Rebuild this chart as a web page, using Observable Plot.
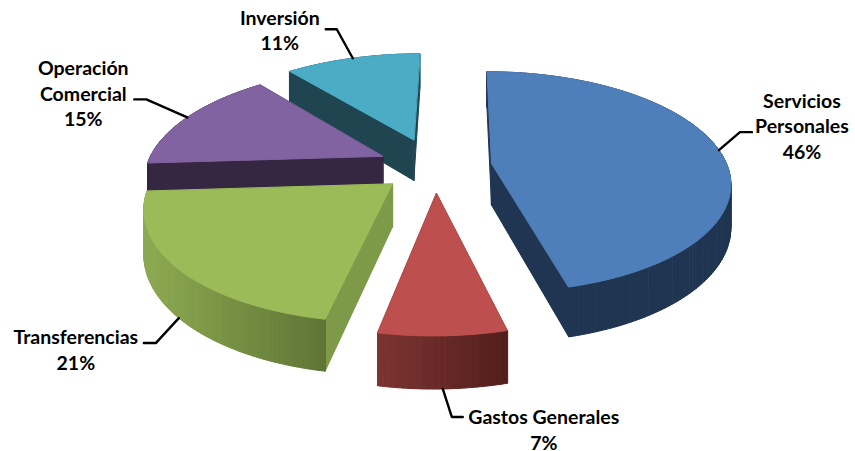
<!DOCTYPE html>
<html>
<head>
<meta charset="utf-8">
<script src="https://cdn.jsdelivr.net/npm/d3@7"></script>
<script src="https://cdn.jsdelivr.net/npm/@observablehq/plot@0.6"></script>
<style>html,body{margin:0;padding:0;background:#fff}svg{display:block}</style>
</head>
<body>
<div id="chart"></div>
<script>
// Data
const categories = ["Servicios\nPersonales", "Gastos Generales", "Transferencias", "Operación\nComercial", "Inversión"];
const shares = [46, 7, 21, 15, 11];

// Styles per slice
const topColors = ["#4f7fba", "#bd504e", "#9bbb59", "#8063a0", "#4bacc6"];
const wallFrom = ["#1f3552", "#7c3331", "#8dab51", "#352642", "#1f4551"];
const wallTo = ["#1f3552", "#521f1c", "#5f7536", "#352642", "#1f4551"];
const cutColors = ["#1f3552", "#6a2a28", "#7c9a48", "#352642", "#1f4551"];
const paintOrder = [4, 3, 0, 2, 1];

// View of the tilted pie
const view = {cx: 435, cy: 166, A: 236, B: 108, H: 42, k: 0.169, skew: 3.5, explode: 0.24};
const nudgeX = [0, 0, 1, -2, -4];
const nudgeY = [0, 0, 0, 0, -3];
// Leader layout: rim the leader starts on (0 top / 1 bottom), then the elbow and the label, as offsets
const leaderRim = [0, 1, 1, 0, 0];
const elbowOff = [[21, -18], [9, 28], [-23, 25], [-41, -18], [-16, -29]];
const tailOff = [12, 11, -12, -12, -11];
const labelOff = [[50, -7], [81, 12], [-68, 6], [-51, -7], [-46, 0]];

const total = d3.sum(shares);
const slices = [];
let acc = 0;
shares.forEach((s, i) => {
  const a0 = acc / total * 2 * Math.PI;
  acc += s;
  const a1 = acc / total * 2 * Math.PI;
  slices.push({i, a0, a1, mid: (a0 + a1) / 2});
});

function project(sl, r, a, rim) {
  const X = r * Math.sin(a) + view.explode * Math.sin(sl.mid);
  const Y = r * Math.cos(a) + view.explode * Math.cos(sl.mid);
  const w = 1 + view.k * Y;
  return {
    x: view.cx + view.A * X / w + view.skew * Y + nudgeX[sl.i],
    y: view.cy + (-view.B * Y + view.H * rim) / w + nudgeY[sl.i],
    depth: Y
  };
}

const polys = [];
let pid = 0;
function addPoly(points, c) {
  const id = pid++;
  points.forEach(p => polys.push({id, x: p.x, y: p.y, c}));
}

paintOrder.forEach(i => {
  const sl = slices[i];
  const n = Math.max(12, Math.round(shares[i] * 3));
  const angles = d3.range(n + 1).map(j => sl.a0 + (sl.a1 - sl.a0) * j / n);
  const walls = [];
  [sl.a0, sl.a1].forEach(a => {
    const pts = [project(sl, 0, a, 0), project(sl, 1, a, 0), project(sl, 1, a, 1), project(sl, 0, a, 1)];
    walls.push({pts, c: cutColors[i], depth: d3.mean(pts, p => p.depth)});
  });
  const mix = d3.interpolateRgb(wallFrom[i], wallTo[i]);
  const xs = angles.map(a => project(sl, 1, a, 0).x);
  const xMin = d3.min(xs), xMax = d3.max(xs);
  for (let j = 0; j < n; j++) {
    const pts = [project(sl, 1, angles[j], 0), project(sl, 1, angles[j + 1], 0),
                 project(sl, 1, angles[j + 1], 1), project(sl, 1, angles[j], 1)];
    const t = ((xs[j] + xs[j + 1]) / 2 - xMin) / (xMax - xMin);
    walls.push({pts, c: mix(t), depth: d3.mean(pts, p => p.depth)});
  }
  walls.sort((a, b) => b.depth - a.depth).forEach(w => addPoly(w.pts, w.c));
  addPoly([project(sl, 0, sl.a0, 0), ...angles.map(a => project(sl, 1, a, 0))], topColors[i]);
});

const leaders = [];
const labels = [];
slices.forEach(sl => {
  const i = sl.i;
  const p = project(sl, 1, sl.mid, leaderRim[i]);
  const e = {x: p.x + elbowOff[i][0], y: p.y + elbowOff[i][1]};
  const t = {x: e.x + tailOff[i], y: e.y};
  [p, e, t].forEach(q => leaders.push({i, x: q.x, y: q.y}));
  labels.push({x: t.x + labelOff[i][0], y: t.y + labelOff[i][1], text: categories[i] + "\n" + shares[i] + "%"});
});

const plot = Plot.plot({
  width: 855,
  height: 451,
  margin: 0,
  x: {domain: [0, 855], range: [0, 855], axis: null},
  y: {domain: [0, 451], range: [0, 451], axis: null},
  style: {background: "#fff"},
  marks: [
    Plot.line(polys, {x: "x", y: "y", z: "id", fill: "c", stroke: "c", strokeWidth: 1, curve: "linear-closed"}),
    Plot.line(leaders, {x: "x", y: "y", z: "i", stroke: "#000", strokeWidth: 2.4, curve: "linear"}),
    Plot.text(labels, {x: "x", y: "y", text: "text", fill: "#000", fontSize: 19.5, fontWeight: 700,
      fontFamily: "Lato, 'Open Sans', sans-serif", lineHeight: 1.32, textAnchor: "middle"})
  ]
});
document.getElementById("chart").appendChild(plot);
</script>
</body>
</html>
